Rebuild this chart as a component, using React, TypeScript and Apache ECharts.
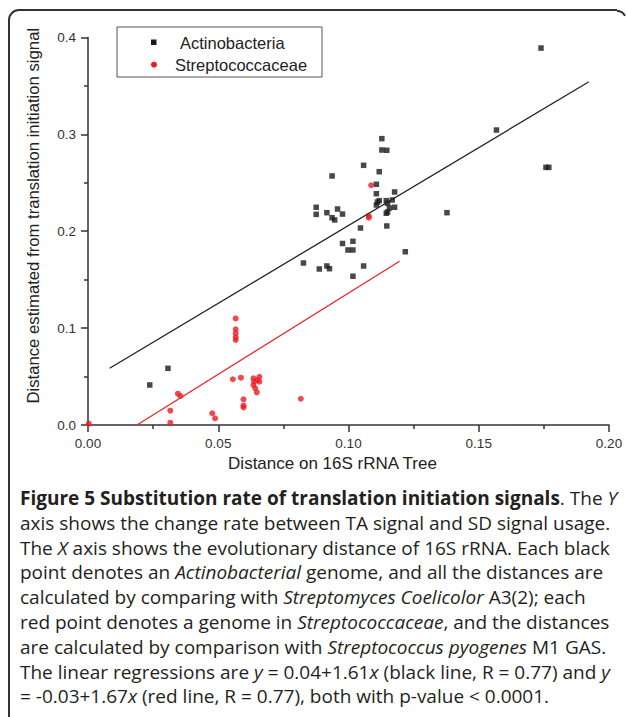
import React, { useEffect, useRef } from "react";
import * as echarts from "echarts";

// Black squares: Actinobacteria [x, y]
const actinobacteria: [number, number][] = [
  [0.1739, 0.389], [0.1568, 0.3044], [0.1758, 0.2659], [0.1769, 0.2659],
  [0.1378, 0.2191], [0.1218, 0.1788], [0.1128, 0.2955], [0.1128, 0.2838],
  [0.1147, 0.2835], [0.1058, 0.268], [0.0937, 0.257], [0.1118, 0.2614],
  [0.1107, 0.2484], [0.1107, 0.2387], [0.1177, 0.2405], [0.1111, 0.2301],
  [0.1118, 0.2315], [0.1107, 0.227], [0.1145, 0.2315], [0.115, 0.2288],
  [0.1168, 0.2322], [0.1177, 0.2247], [0.1157, 0.2239], [0.115, 0.2198],
  [0.1145, 0.2185], [0.1147, 0.2054], [0.0876, 0.2247], [0.0876, 0.2174],
  [0.0917, 0.2191], [0.0937, 0.2139], [0.0947, 0.2116], [0.0958, 0.2229],
  [0.0977, 0.2177], [0.1046, 0.2033], [0.0977, 0.1873], [0.1017, 0.1896],
  [0.0998, 0.1806], [0.1017, 0.1806], [0.0827, 0.1672], [0.0888, 0.161],
  [0.0917, 0.1641], [0.0927, 0.1613], [0.1058, 0.1641], [0.1017, 0.1535],
  [0.0237, 0.0413], [0.0307, 0.0585],
];

// Red circles: Streptococcaceae [x, y]
const streptococcaceae: [number, number][] = [
  [0.0003, 0.0015], [0.0316, 0.0148], [0.0316, 0.0024], [0.0345, 0.0323],
  [0.0355, 0.0299], [0.0477, 0.0121], [0.0488, 0.0069], [0.0567, 0.11],
  [0.0567, 0.0988], [0.0567, 0.0946], [0.0567, 0.0905], [0.0567, 0.0877],
  [0.0556, 0.0472], [0.0587, 0.0488], [0.0597, 0.0265], [0.0597, 0.0201],
  [0.0597, 0.0181], [0.0635, 0.0482], [0.0638, 0.0447], [0.0635, 0.0413],
  [0.0642, 0.0379], [0.0648, 0.0337], [0.0658, 0.0498], [0.0658, 0.0447],
  [0.065, 0.0464], [0.0817, 0.0271], [0.1087, 0.2474], [0.1078, 0.2157],
  [0.1078, 0.2139],
];

// Regression line end points [x, y]
const blackFit: [number, number][] = [[0.0083, 0.0585], [0.1923, 0.3543]];
const redFit: [number, number][] = [[0.0188, 0], [0.1196, 0.169]];

const legendNames = ["Actinobacteria", "Streptococcaceae"];
const xAxisName = "Distance on 16S rRNA Tree";
const yAxisName = "Distance estimated from translation initiation signal";

// Caption lines: [style, text] segments
const caption: [string, string][][] = [
  [["b", "Figure 5 Substitution rate of translation initiation signals"], ["n", ". The "], ["i", "Y"]],
  [["n", "axis shows the change rate between TA signal and SD signal usage."]],
  [["n", "The "], ["i", "X"], ["n", " axis shows the evolutionary distance of 16S rRNA. Each black"]],
  [["n", "point denotes an "], ["i", "Actinobacterial"], ["n", " genome, and all the distances are"]],
  [["n", "calculated by comparing with "], ["i", "Streptomyces Coelicolor"], ["n", " A3(2); each"]],
  [["n", "red point denotes a genome in "], ["i", "Streptococcaceae"], ["n", ", and the distances"]],
  [["n", "are calculated by comparison with "], ["i", "Streptococcus pyogenes"], ["n", " M1 GAS."]],
  [["n", "The linear regressions are "], ["i", "y"], ["n", " = 0.04+1.61"], ["i", "x"], ["n", " (black line, R = 0.77) and "], ["i", "y"]],
  [["n", "= -0.03+1.67"], ["i", "x"], ["n", " (red line, R = 0.77), both with p-value < 0.0001."]],
];

const AX = "Liberation Sans, Arial, sans-serif";
const CAP = "Open Sans, sans-serif";
const CAP_SIZE = 19;

export default function App() {
  const ref = useRef<HTMLDivElement>(null);
  useEffect(() => {
    if (!ref.current) return;
    const chart = echarts.init(ref.current, null, { renderer: "svg" });
    const capBase = { fontFamily: CAP, fontSize: CAP_SIZE, fill: "#231f20" };
    const captionEls = caption.map((line, i) => ({
      type: "text",
      x: 20,
      y: 498 + i * 24.8,
      style: {
        text: line.map(([s, t]) => `{${s}|${t}}`).join(""),
        rich: {
          n: { ...capBase },
          b: { ...capBase, fontWeight: "bold" },
          i: { ...capBase, fontStyle: "italic" },
        },
        ...capBase,
        textAlign: "left",
        align: "left",
        textVerticalAlign: "middle",
        verticalAlign: "middle",
      },
    }));
    const frameStyle = { stroke: "#333", lineWidth: 2, fill: "none" };
    const axisLineStyle = { color: "#333", width: 1.5 };
    chart.setOption({
      animation: false,
      grid: { left: 88, right: 18, top: 37.4, bottom: 292 },
      xAxis: {
        type: "value",
        min: 0,
        max: 0.2,
        interval: 0.05,
        name: xAxisName,
        nameLocation: "middle",
        nameGap: 22,
        nameTextStyle: { fontFamily: AX, fontSize: 17, color: "#222", padding: [0, 32, 0, 0] },
        axisLine: { lineStyle: axisLineStyle },
        axisTick: { length: 7, lineStyle: axisLineStyle },
        minorTick: { show: true, splitNumber: 2, length: 4, lineStyle: axisLineStyle },
        splitLine: { show: false },
        axisLabel: {
          formatter: (v: number) => v.toFixed(2),
          fontFamily: AX,
          fontSize: 13.5,
          color: "#333",
          margin: 11,
        },
      },
      yAxis: {
        type: "value",
        min: 0,
        max: 0.4,
        interval: 0.1,
        name: yAxisName,
        nameLocation: "middle",
        nameGap: 46,
        nameTextStyle: { fontFamily: AX, fontSize: 16.7, color: "#222", padding: [0, 0, 0, 31] },
        axisLine: { lineStyle: axisLineStyle },
        axisTick: { length: 7, lineStyle: axisLineStyle },
        minorTick: { show: true, splitNumber: 2, length: 4, lineStyle: axisLineStyle },
        splitLine: { show: false },
        axisLabel: {
          formatter: (v: number) => v.toFixed(1),
          fontFamily: AX,
          fontSize: 13.5,
          color: "#333",
          margin: 12,
        },
      },
      series: [
        {
          name: legendNames[0],
          type: "scatter",
          symbol: "rect",
          symbolSize: 5.5,
          itemStyle: { color: "#1a1a1a" },
          data: actinobacteria,
          clip: false,
          z: 3,
        },
        {
          name: legendNames[1],
          type: "scatter",
          symbol: "circle",
          symbolSize: 6,
          itemStyle: { color: "#ec1c24" },
          data: streptococcaceae,
          clip: false,
          z: 3,
        },
        {
          name: "Actinobacteria fit",
          type: "line",
          data: blackFit,
          showSymbol: false,
          symbol: "none",
          lineStyle: { color: "#222", width: 1.3 },
          z: 4,
        },
        {
          name: "Streptococcaceae fit",
          type: "line",
          data: redFit,
          showSymbol: false,
          symbol: "none",
          lineStyle: { color: "#e8262b", width: 1.3 },
          z: 4,
        },
      ],
      graphic: [
        // page frame: top edge, left edge and the two rounded top corners
        { type: "line", shape: { x1: 19, y1: 10, x2: 617, y2: 10 }, style: frameStyle, silent: true },
        { type: "line", shape: { x1: 9, y1: 20, x2: 9, y2: 717 }, style: frameStyle, silent: true },
        {
          type: "arc",
          shape: { cx: 19, cy: 20, r: 10, startAngle: Math.PI, endAngle: Math.PI * 1.5 },
          style: frameStyle,
          silent: true,
        },
        {
          type: "arc",
          shape: { cx: 617, cy: 20, r: 9, startAngle: Math.PI * 1.5, endAngle: Math.PI * 1.85 },
          style: frameStyle,
          silent: true,
        },
        {
          type: "rect",
          shape: { x: 117, y: 27, width: 205, height: 50 },
          style: { fill: "#fff", stroke: "#555", lineWidth: 1 },
          z: 10,
        },
        {
          type: "rect",
          shape: { x: 151, y: 39.5, width: 5.5, height: 5.5 },
          style: { fill: "#1a1a1a" },
          z: 11,
        },
        {
          type: "circle",
          shape: { cx: 154, cy: 64.7, r: 3 },
          style: { fill: "#ec1c24" },
          z: 11,
        },
        {
          type: "text",
          x: 180,
          y: 43,
          z: 11,
          style: {
            text: legendNames[0],
            fontFamily: AX,
            fontSize: 16.5,
            fill: "#222",
            textVerticalAlign: "middle",
            verticalAlign: "middle",
          },
        },
        {
          type: "text",
          x: 175,
          y: 65,
          z: 11,
          style: {
            text: legendNames[1],
            fontFamily: AX,
            fontSize: 16.5,
            fill: "#222",
            textVerticalAlign: "middle",
            verticalAlign: "middle",
          },
        },
        ...captionEls,
      ],
    });
    return () => chart.dispose();
  }, []);
  return (
    <div
      ref={ref}
      style={{ position: "absolute", left: 0, top: 0, width: 627, height: 717, background: "#fff" }}
    />
  );
}
